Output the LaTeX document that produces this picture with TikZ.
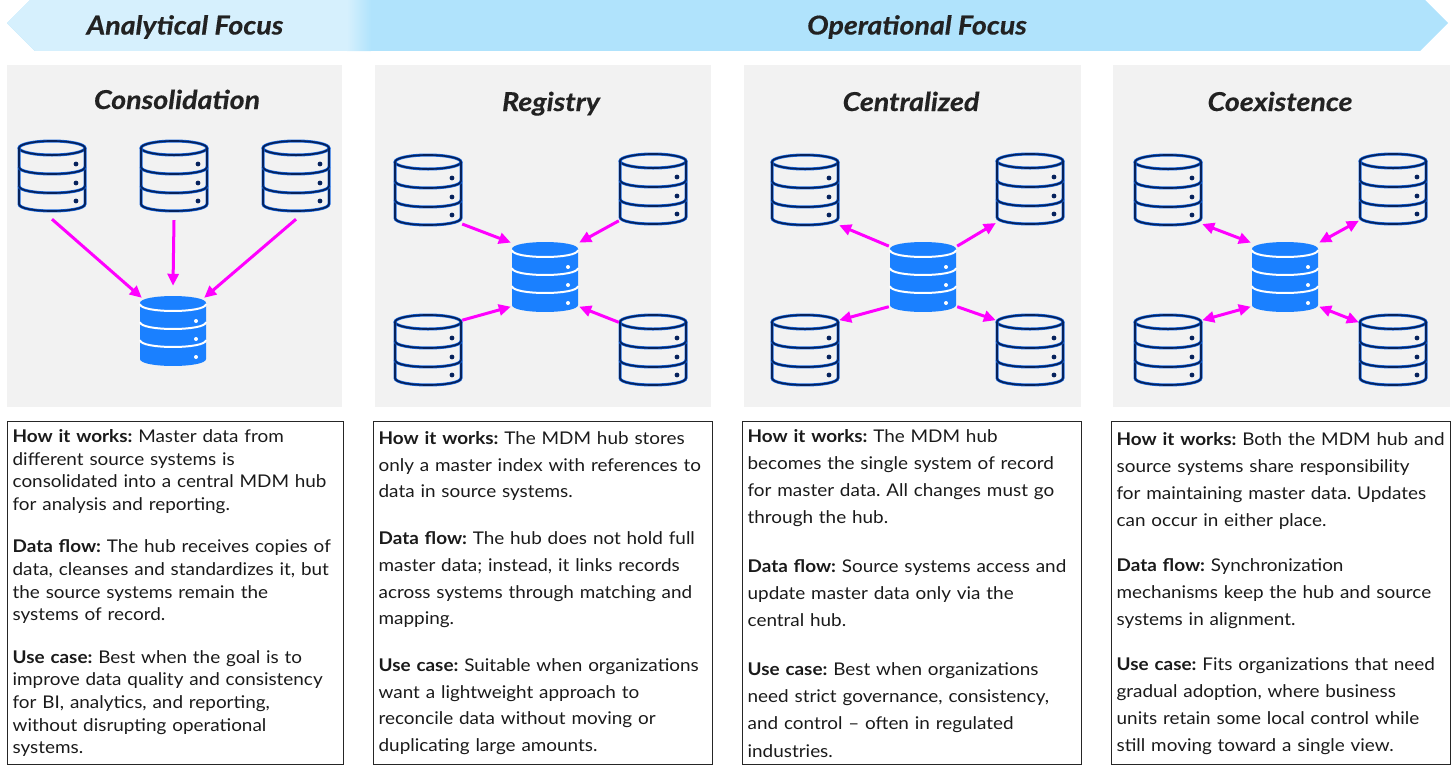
\documentclass[tikz,border=0pt]{standalone}
\usepackage{fontspec}
\setmainfont{Lato}[FakeStretch=1.08]
\newfontfamily\headfont{Lato}[FakeStretch=1.1, FakeBold=0.4]
\usetikzlibrary{arrows.meta}

\definecolor{banlight}{RGB}{214,240,253}
\definecolor{bandark}{RGB}{176,227,252}
\definecolor{panelgray}{RGB}{242,242,242}
\definecolor{titletext}{RGB}{34,34,34}
\definecolor{bodytext}{RGB}{26,26,26}
\definecolor{dbnavy}{RGB}{6,34,92}
\definecolor{dbblue}{RGB}{24,104,224}
\definecolor{hubblue}{RGB}{26,128,255}
\definecolor{flowpink}{RGB}{255,0,255}

\tikzset{
  db/.style={rectangle, inner sep=0pt, minimum width=68pt, minimum height=72pt},
  dbline/.style={draw=dbnavy, line width=1.7pt, preaction={draw=dbblue, line width=3pt}},
  flow/.style={draw=flowpink, line width=3pt},
  bantext/.style={anchor=base, text=titletext, font=\headfont\fontsize{26}{30}\selectfont\bfseries\itshape},
  paneltitle/.style={anchor=base, text=titletext, font=\headfont\fontsize{26}{30}\selectfont\bfseries\itshape},
  infobox/.style={rectangle, draw=black!85, line width=1.3pt, anchor=north west, align=left,
    inner xsep=5pt, minimum height=343pt, text=bodytext},
}

% outlined source database
\newcommand{\dbsrc}[1]{%
  \begin{scope}[shift={(#1.center)}]
    \draw[dbline] (0,-29) ellipse [x radius=33, y radius=7];
    \draw[dbline] (-33,-29) -- (-33,27) .. controls (-33,36.3) and (33,36.3) .. (33,27) -- (33,-29);
    \foreach \yy in {-10,9}
      \draw[dbline] (-33,\yy) .. controls (-33,\yy+9.3) and (33,\yy+9.3) .. (33,\yy);
    \foreach \yy in {-13,6,24}
      \fill[dbnavy] (24,\yy) circle[radius=2.4];
  \end{scope}}

% filled MDM hub database
\newcommand{\dbhub}[1]{%
  \begin{scope}[shift={(#1.center)}]
    \fill[hubblue] (-33,-29) .. controls (-33,-38.3) and (33,-38.3) .. (33,-29) -- (33,27)
      .. controls (33,36.3) and (-33,36.3) .. (-33,27) -- cycle;
    \foreach \yy in {-28,-10,8}
      \draw[white, line width=2pt] (-33,\yy) .. controls (-33,\yy+9.3) and (33,\yy+9.3) .. (33,\yy);
    \foreach \yy in {-11,7,25}
      \fill[white] (23,\yy) circle[radius=2];
  \end{scope}}

\begin{document}
\frenchspacing
\begin{tikzpicture}[x=1pt, y=-1pt, >={Triangle[length=12pt,width=11pt]}]
\useasboundingbox (0,0) rectangle (1456,769);

%Focus banner
\begin{scope}
  \clip (35,-5) -- (1420,-5) -- (1448,23) -- (1420,51) -- (35,51) -- (7,23) -- cycle;
  \fill[bandark] (0,-5) rectangle (1456,51);
  \fill[banlight] (0,-5) rectangle (348,51);
  \shade[left color=banlight, right color=bandark] (347,-5) rectangle (371,51);
\end{scope}
\node[bantext] (analytic) at (185,34.5) {Analytical Focus};
\node[bantext] (operational) at (917,34.5) {Operational Focus};

%Panel backgrounds
\fill[panelgray] (7,65) rectangle (342,407);
\fill[panelgray] (375,65) rectangle (711,407);
\fill[panelgray] (744,65) rectangle (1081,407);
\fill[panelgray] (1113,65) rectangle (1450,407);

%Panel titles
\node[paneltitle] (t-cons) at (177,109) {Consolidation};
\node[paneltitle] (t-reg) at (551,111) {Registry};
\node[paneltitle] (t-cent) at (911,111) {Centralized};
\node[paneltitle] (t-coex) at (1280,111) {Coexistence};

%Consolidation
\node[db] (c-a) at (52,177) {};
\node[db] (c-b) at (174,177) {};
\node[db] (c-c) at (296,177) {};
\node[db] (c-hub) at (173,332) {};
\dbsrc{c-a} \dbsrc{c-b} \dbsrc{c-c} \dbhub{c-hub}
\draw[flow, ->] ([yshift=-6pt]c-a.south) -- ([shift={(3pt,-2pt)}]c-hub.north west);
\draw[flow, ->] ([yshift=-7pt]c-b.south) -- ([yshift=10pt]c-hub.north);
\draw[flow, ->] ([yshift=-6pt]c-c.south) -- ([shift={(-3pt,-2pt)}]c-hub.north east);

%Registry
\node[db] (r-tl) at (428,191) {};
\node[db] (r-tr) at (653,190) {};
\node[db] (r-bl) at (428,351) {};
\node[db] (r-br) at (653,351) {};
\node[db] (r-hub) at (545,278) {};
\dbsrc{r-tl} \dbsrc{r-tr} \dbsrc{r-bl} \dbsrc{r-br} \dbhub{r-hub}
\draw[flow, ->] (r-tl.-44) -- (r-hub.134);
\draw[flow, ->] (r-tr.222) -- (r-hub.46);
\draw[flow, ->] (r-bl.42) -- (r-hub.220);
\draw[flow, ->] (r-br.140) -- (r-hub.-40);

%Centralized
\node[db] (z-tl) at (805,191) {};
\node[db] (z-tr) at (1030,190) {};
\node[db] (z-bl) at (805,351) {};
\node[db] (z-br) at (1030,351) {};
\node[db] (z-hub) at (923,278) {};
\dbsrc{z-tl} \dbsrc{z-tr} \dbsrc{z-bl} \dbsrc{z-br} \dbhub{z-hub}
\draw[flow, ->] (z-hub.137) -- (z-tl.-45);
\draw[flow, ->] (z-hub.43) -- (z-tr.224);
\draw[flow, ->] (z-hub.220) -- (z-bl.42);
\draw[flow, ->] (z-hub.-40) -- (z-br.138);

%Coexistence
\node[db] (x-tl) at (1168,191) {};
\node[db] (x-tr) at (1393,190) {};
\node[db] (x-bl) at (1168,351) {};
\node[db] (x-br) at (1393,351) {};
\node[db] (x-hub) at (1285,278) {};
\dbsrc{x-tl} \dbsrc{x-tr} \dbsrc{x-bl} \dbsrc{x-br} \dbhub{x-hub}
\draw[flow, <->] (x-tl.-44) -- (x-hub.134);
\draw[flow, <->] (x-tr.222) -- (x-hub.46);
\draw[flow, <->] (x-bl.42) -- (x-hub.220);
\draw[flow, <->] (x-br.140) -- (x-hub.-40);

%Description boxes
\node[infobox, text width=326pt, font=\fontsize{17.5}{22.6}\selectfont] (d-cons) at (7,421) {
\textbf{How it works:} Master data from\\
different source systems is\\
consolidated into a central MDM hub\\
for analysis and reporting.\\[20pt]
\textbf{Data flow:} The hub receives copies of\\
data, cleanses and standardizes it, but\\
the source systems remain the\\
systems of record.\\[20pt]
\textbf{Use case:} Best when the goal is to\\
improve data quality and consistency\\
for BI, analytics, and reporting,\\
without disrupting operational\\
systems.
};

\node[infobox, text width=329pt, font=\fontsize{17.5}{26.7}\selectfont] (d-reg) at (373,421) {
\textbf{How it works:} The MDM hub stores\\
only a master index with references to\\
data in source systems.\\[20pt]
\textbf{Data flow:} The hub does not hold full\\
master data; instead, it links records\\
across systems through matching and\\
mapping.\\[20pt]
\textbf{Use case:} Suitable when organizations\\
want a lightweight approach to\\
reconcile data without moving or\\
duplicating large amounts.
};

\node[infobox, text width=329pt, font=\fontsize{17.5}{27.3}\selectfont] (d-cent) at (742,421) {
\textbf{How it works:} The MDM hub\\
becomes the single system of record\\
for master data. All changes must go\\
through the hub.\\[21pt]
\textbf{Data flow:} Source systems access and\\
update master data only via the\\
central hub.\\[21pt]
\textbf{Use case:} Best when organizations\\
need strict governance, consistency,\\
and control – often in regulated\\
industries.
};

\node[infobox, text width=329pt, font=\fontsize{17.5}{27}\selectfont] (d-coex) at (1111,421) {
\textbf{How it works:} Both the MDM hub and\\
source systems share responsibility\\
for maintaining master data. Updates\\
can occur in either place.\\[18pt]
\textbf{Data flow:} Synchronization\\
mechanisms keep the hub and source\\
systems in alignment.\\[18pt]
\textbf{Use case:} Fits organizations that need\\
gradual adoption, where business\\
units retain some local control while\\
still moving toward a single view.
};

\end{tikzpicture}
\end{document}
